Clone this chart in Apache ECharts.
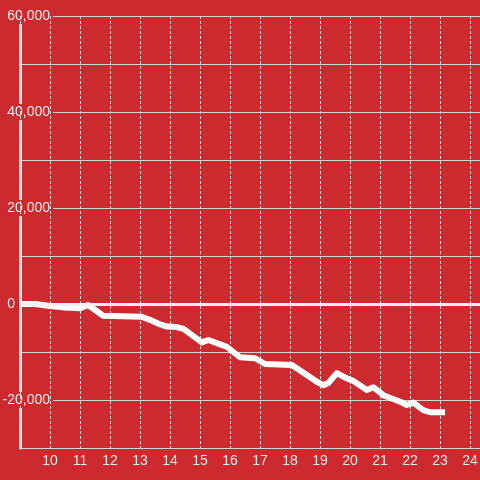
<!DOCTYPE html>
<html>
<head>
<meta charset="utf-8">
<script src="https://cdn.jsdelivr.net/npm/echarts@6/dist/echarts.min.js"></script>
<style>
html,body{margin:0;padding:0;background:#cc2a2f;}
#chart{width:480px;height:480px;}
</style>
</head>
<body>
<div id="chart"></div>
<script>
// hours of the day
const hours = [9.0, 9.5, 10.0, 10.5, 11.0, 11.27, 11.77, 13.05, 13.33, 13.67, 13.9, 14.22, 14.45, 14.72, 15.06, 15.28, 15.67, 15.89, 16.1, 16.33, 16.83, 17.17, 18.06, 18.56, 18.89, 19.11, 19.27, 19.56, 19.89, 20.1, 20.56, 20.78, 21.11, 21.67, 21.89, 22.11, 22.44, 22.67, 23.17];
// cumulative value
const values = [0, 0, -400, -750, -900, -200, -2450, -2650, -3300, -4250, -4700, -4800, -5200, -6450, -8000, -7500, -8400, -8900, -9950, -11100, -11300, -12500, -12700, -14800, -16200, -16900, -16500, -14400, -15500, -16000, -17900, -17350, -19000, -20350, -21050, -20550, -22100, -22550, -22550];
const yTickLabels = ['-20,000', '0', '20,000', '40,000', '60,000'];
const xTickLabels = ['10','11','12','13','14','15','16','17','18','19','20','21','22','23','24'];

const bg = '#cc2a2f';
const txt = '#eeeeee';
const font = 'Liberation Sans, Arial, sans-serif';

const chart = echarts.init(document.getElementById('chart'));
chart.setOption({
  backgroundColor: bg,
  animation: false,
  grid: {left: 20, top: 16, right: 0, bottom: 32, containLabel: false, outerBoundsMode: 'none'},
  xAxis: {
    type: 'value', min: 9, max: 24 + 1 / 3, interval: 1, z: 1,
    axisLine: {show: false}, axisTick: {show: false},
    axisLabel: {
      color: txt, fontSize: 14, fontFamily: font, margin: 6,
      showMinLabel: false, showMaxLabel: false,
      formatter: function (v) {
        if (Math.abs(v - Math.round(v)) > 1e-6) return '';
        const s = String(Math.round(v));
        return xTickLabels.indexOf(s) >= 0 ? s : '';
      }
    },
    splitLine: {show: true, lineStyle: {color: '#d4d4d4', width: 1, type: [3, 2]}}
  },
  yAxis: {
    type: 'value', min: -30000, max: 60000, interval: 10000,
    axisLine: {show: true, lineStyle: {color: '#eeeeee', width: 3}},
    axisTick: {show: false},
    axisLabel: {
      inside: true, margin: 33, align: 'right',
      formatter: function (v) {
        const s = v === 0 ? '0' : (v / 1000).toFixed(0) + ',000';
        if (yTickLabels.indexOf(s) < 0) return '';
        if (v === 0) return '{z|0}';
        return '{a|' + s + '}';
      },
      rich: {
        a: {color: txt, fontSize: 14, fontFamily: font, backgroundColor: bg, padding: [1, 3, 1, 3]},
        z: {color: txt, fontSize: 14, fontFamily: font, padding: [1, 38, 1, 3]}
      }
    },
    splitLine: {show: true, lineStyle: {color: '#d4d4d4', width: 1}}
  },
  series: [{
    type: 'line',
    data: hours.map((h, i) => [h, values[i]]),
    showSymbol: false,
    smooth: false,
    lineStyle: {color: '#ffffff', width: 6, cap: 'butt', join: 'round'},
    markLine: {
      silent: true, symbol: ['none', 'none'], label: {show: false},
      lineStyle: {color: '#f0f0f0', width: 3, type: 'solid'},
      data: [{yAxis: 0}]
    },
    z: 3
  }]
});
</script>
</body>
</html>
